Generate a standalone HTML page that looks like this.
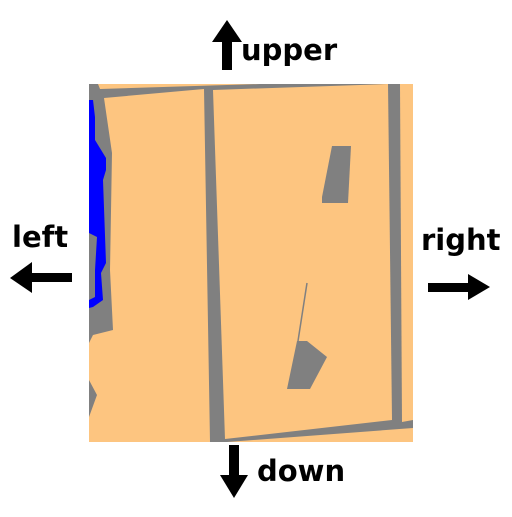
<!DOCTYPE html>
<html><head><meta charset="utf-8"><style>
body{margin:0;background:#fff;width:512px;height:512px;overflow:hidden}
svg text{font-family:"DejaVu Sans","Liberation Sans",sans-serif;font-weight:bold;fill:#000}
</style></head><body>
<svg width="512" height="512" viewBox="0 0 512 512">
<g>
<rect x="89" y="84" width="324" height="358" fill="#808080"/>
<polygon points="98,84 260,84 100,89" fill="#fdc580"/>
<polygon points="104,98 204,89 210,442 89,442 89,417 97,395 89,380 89,343 93,335 113,330 110,270 112,153" fill="#fdc580"/>
<polygon points="213,90 388,84 392,420 225,439" fill="#fdc580"/>
<polygon points="400,84 413,84 413,420 402,422" fill="#fdc580"/>
<polygon points="227,442 413,428 413,442" fill="#fdc580"/>
<polygon points="89,100 93,100 95,117 95,140 106,158 106,170 103,180 106,263 101,273 103,300 93,307 89,308 89,300 95,297 95,270 97,237 89,233" fill="#0000ff"/>
<polygon points="332,146 351,146 348,203 322,203 322,197" fill="#808080"/>
<polygon points="297,341 307,341 327,357 310,389 287,389" fill="#808080"/>
<line x1="307" y1="283" x2="298" y2="341" stroke="#808080" stroke-width="1.5"/>
</g>
<g><rect x="222" y="42" width="10" height="28"/><polygon points="227,20 212,42 242,42"/></g>
<text x="241" y="60" font-size="29">upper</text>
<text x="12" y="247" font-size="29">left</text>
<g><rect x="32" y="273" width="40" height="9"/><polygon points="10,278 32,262 32,293"/></g>
<text x="421" y="250" font-size="29">right</text>
<g><rect x="428" y="283" width="42" height="9"/><polygon points="490,287 468,274 468,300"/></g>
<g><rect x="229" y="445" width="10" height="30"/><polygon points="234,498 220,475 248,475"/></g>
<text x="257" y="481" font-size="29">down</text>
</svg>
</body></html>
